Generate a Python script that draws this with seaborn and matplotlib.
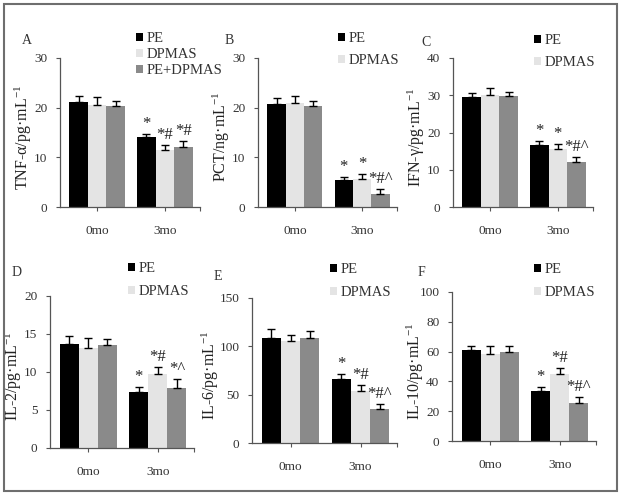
import numpy as np
import pandas as pd
import matplotlib
matplotlib.use("Agg")
import matplotlib.pyplot as plt
from matplotlib.patches import Patch, Rectangle
import seaborn as sns

times = ["0mo", "3mo"]
groups = ["PE", "DPMAS", "PE+DPMAS"]
colors = ["#000000", "#e4e4e4", "#8a8a8a"]

# means per group (0mo, 3mo) and upper error
tnf = [[21.1, 14.1], [20.6, 11.5], [20.4, 12.1]]
tnf_err = [[1.2, 0.6], [1.5, 0.9], [1.0, 1.2]]
tnf_marks = ["*", "*#", "*#"]

pct = [[20.7, 5.5], [20.9, 5.7], [20.4, 2.6]]
pct_err = [[1.2, 0.6], [1.4, 1.0], [1.0, 1.1]]
pct_marks = ["*", "*", "*#^"]

ifn = [[29.5, 16.7], [30.0, 15.5], [29.8, 12.0]]
ifn_err = [[1.2, 1.0], [2.0, 1.3], [1.1, 1.3]]
ifn_marks = ["*", "*", "*#^"]

il2 = [[13.65, 7.4], [13.2, 9.7], [13.5, 7.9]]
il2_err = [[1.1, 0.6], [1.3, 0.9], [0.9, 1.2]]
il2_marks = ["*", "*#", "*^"]

il6 = [[109.0, 66.7], [105.8, 54.3], [109.0, 35.4]]
il6_err = [[8.5, 5.1], [6.2, 5.7], [6.5, 4.5]]
il6_marks = ["*", "*#", "*#^"]

il10 = [[60.8, 33.4], [58.3, 45.3], [59.9, 25.8]]
il10_err = [[2.7, 2.9], [5.2, 3.4], [4.0, 3.8]]
il10_marks = ["*", "*#", "*#^"]

sns.set_style("white")
plt.rcParams['font.family'] = ['Liberation Serif', 'DejaVu Serif']
plt.rcParams['mathtext.fontset'] = 'custom'
plt.rcParams['mathtext.rm'] = 'Liberation Serif'
plt.rcParams['mathtext.it'] = 'Liberation Serif:italic'

W, H = 620, 496
fig = plt.figure(figsize=(6.2, 4.96), dpi=100)

# outer frame
fig.patches.append(Rectangle((4 / W, 1 - 491 / H), 613 / W, 487 / H, transform=fig.transFigure,
                             fill=False, edgecolor="#6e6e6e", lw=1.5))

panels = [
    # letter, ylabel, data, err, marks, yticks, axes px (x0, x1, ytop, ybot), letter pos, legend (x, y, n, spacing)
    ("A", "TNF-α/pg·mL$^{-1}$", tnf, tnf_err, tnf_marks, [0, 10, 20, 30], (60, 200, 58, 207), (27, 40), (136, 32, 3, 0.2)),
    ("B", "PCT/ng·mL$^{-1}$", pct, pct_err, pct_marks, [0, 10, 20, 30], (258, 397, 58, 207), (229, 41), (338, 32, 2, 0.65)),
    ("C", "IFN-γ/pg·mL$^{-1}$", ifn, ifn_err, ifn_marks, [0, 10, 20, 30, 40], (453, 593, 58, 207), (426, 42), (534, 34, 2, 0.65)),
    ("D", "IL-2/pg·mL$^{-1}$", il2, il2_err, il2_marks, [0, 5, 10, 15, 20], (50, 194, 296, 448), (17, 272), (128, 262, 2, 0.7)),
    ("E", "IL-6/pg·mL$^{-1}$", il6, il6_err, il6_marks, [0, 50, 100, 150], (252, 397, 298, 443), (218, 277), (330, 263, 2, 0.7)),
    ("F", "IL-10/pg·mL$^{-1}$", il10, il10_err, il10_marks, [0, 20, 40, 60, 80, 100], (452, 596, 292, 441), (421, 273), (534, 263, 2, 0.7)),
]

XL = (-0.55, 1.52)
for letter, ylab, vals, errs, marks, yt, (x0, x1, yt0, yb0), (lx, ly), (gx, gy, ng, lsp) in panels:
    ax = fig.add_axes([x0 / W, 1 - yb0 / H, (x1 - x0) / W, (yb0 - yt0) / H])
    df = pd.DataFrame({
        "time": [t for g in groups for t in times],
        "group": [g for g in groups for t in times],
        "value": [v for row in vals for v in row],
    })
    sns.barplot(data=df, x="time", y="value", hue="group", hue_order=groups, order=times,
                palette=colors, width=0.82, errorbar=None, legend=False, ax=ax,
                edgecolor="none", linewidth=0, saturation=1)
    bar_conts = list(ax.containers)
    for gi, cont in enumerate(bar_conts):
        for ti, bar in enumerate(cont.patches):
            xc = bar.get_x() + bar.get_width() / 2
            h = bar.get_height()
            e = errs[gi][ti]
            ax.errorbar([xc], [h], yerr=[[0], [e]], fmt="none", ecolor="black",
                        elinewidth=1, capsize=3, capthick=1)
            if ti == 1:
                ax.annotate(marks[gi], (xc, h + e), xytext=(0, 1.5), textcoords="offset points",
                            ha="center", va="bottom", fontsize=12, color="#222222")
    ax.set_xlim(*XL)
    ax.set_ylim(yt[0], yt[-1])
    ax.set_yticks(yt)
    ax.set_xticks([0, 1])
    ax.set_xticks([XL[1]], minor=True)
    ax.set_xlabel("")
    ax.set_ylabel(ylab, fontsize=11.5, color="#222222")
    # three-digit tick labels in E need a bit more room
    off = -31 if letter == "E" else -26
    ax.yaxis.set_label_coords(off / (x1 - x0), 0.47)
    ax.tick_params(axis="y", direction="out", length=3, width=0.8, color="#555555",
                   labelsize=9.5, labelcolor="#333333", pad=6, left=True)
    ax.tick_params(axis="x", which="both", direction="out", length=3, width=0.8, color="#555555",
                   labelsize=9.5, labelcolor="#333333", pad=10, bottom=True)
    sns.despine(ax=ax)
    for s in ["left", "bottom"]:
        ax.spines[s].set_color("#555555")
        ax.spines[s].set_linewidth(0.9)
    ax.patch.set_alpha(0)

    fig.text(lx / W, 1 - ly / H, letter, fontsize=10, ha="center", va="center", color="#333333")

    handles = [Patch(facecolor=colors[i], edgecolor="none") for i in range(ng)]
    ax.legend(handles, groups[:ng], loc="upper left", bbox_to_anchor=(gx / W, 1 - gy / H),
              bbox_transform=fig.transFigure, frameon=False, fontsize=10.5,
              handlelength=0.45, handleheight=0.45, handletextpad=0.3,
              labelspacing=lsp, borderpad=0, borderaxespad=0, labelcolor="#333333")

fig.savefig("out.png", dpi=100)
